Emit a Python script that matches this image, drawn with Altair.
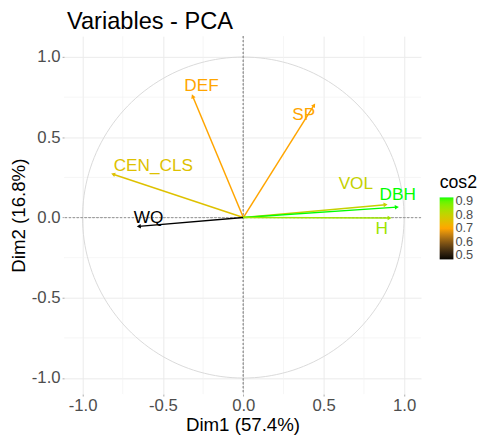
import altair as alt
import pandas as pd

# ---- data ----
variables = ["DEF", "SP", "CEN_CLS", "WQ", "VOL", "DBH", "H"]
dim1 = [-0.315, 0.44, -0.81, -0.65, 0.885, 0.955, 0.91]
dim2 = [0.756, 0.70, 0.27, -0.055, 0.08, 0.065, -0.003]
cos2 = [0.70, 0.70, 0.76, 0.47, 0.80, 0.93, 0.85]
label_x = [-0.26, 0.376, -0.56, -0.59, 0.70, 0.96, 0.86]
label_y = [0.82, 0.64, 0.32, -0.005, 0.21, 0.14, -0.073]

major_ticks = [-1.0, -0.5, 0.0, 0.5, 1.0]
minor_ticks = [-0.75, -0.25, 0.25, 0.75]
legend_ticks = [0.5, 0.6, 0.7, 0.8, 0.9]
cos2_range = [0.47, 0.93]
gradient_colors = ["#000000", "#FFA500", "#00FF00"]

df = pd.DataFrame({"name": variables, "dim1": dim1, "dim2": dim2, "cos2": cos2,
                   "lx": label_x, "ly": label_y})
minor_df = pd.DataFrame({"v": minor_ticks})

FONT = "Liberation Sans"
W, H = 363, 364

xscale = alt.Scale(domain=[-1.115, 1.105], nice=False, zero=False)
yscale = alt.Scale(domain=[-1.1, 1.13], nice=False, zero=False)
cscale = alt.Scale(domain=cos2_range, range=gradient_colors, interpolate="lab")

lab_expr = "replace(format(datum.value, '.1f'), '\u2212', '-')"
xaxis = alt.Axis(values=major_ticks, labelExpr=lab_expr, title="Dim1 (57.4%)")
yaxis = alt.Axis(values=major_ticks, labelExpr=lab_expr, title="Dim2 (16.8%)")

base = alt.Chart(df)

minor_v = alt.Chart(minor_df).mark_rule(color="#f2f2f2", strokeWidth=0.7).encode(
    x=alt.X("v:Q", scale=xscale, axis=xaxis))
minor_h = alt.Chart(minor_df).mark_rule(color="#f2f2f2", strokeWidth=0.7).encode(
    y=alt.Y("v:Q", scale=yscale, axis=yaxis))

circle = alt.Chart(alt.sequence(0, 362, 2, as_="t")).transform_calculate(
    cx="cos(datum.t*PI/180)", cy="sin(datum.t*PI/180)"
).mark_line(color="#d9d9d9", strokeWidth=1).encode(
    x=alt.X("cx:Q", scale=xscale, axis=xaxis),
    y=alt.Y("cy:Q", scale=yscale, axis=yaxis),
    order="t:Q")

zero_v = alt.Chart(minor_df).mark_rule(color="#a0a0a0", strokeDash=[2, 2], strokeWidth=1).encode(
    x=alt.datum(0))
zero_h = alt.Chart(minor_df).mark_rule(color="#a0a0a0", strokeDash=[2, 2], strokeWidth=1).encode(
    y=alt.datum(0))

arrows = base.transform_calculate(x0="0", y0="0").mark_rule(strokeWidth=1.5).encode(
    x=alt.X("x0:Q", scale=xscale, axis=xaxis),
    y=alt.Y("y0:Q", scale=yscale, axis=yaxis),
    x2="dim1:Q", y2="dim2:Q",
    color=alt.Color("cos2:Q", scale=cscale, title="cos2",
                    legend=alt.Legend(type="gradient", values=legend_ticks, format=".1f")))

tips = base.transform_calculate(
    ang="90 - atan2(datum.dim2, datum.dim1) * 180 / PI"
).mark_point(shape="triangle-up", filled=True, size=22, opacity=1).encode(
    x=alt.X("dim1:Q", scale=xscale, axis=xaxis),
    y=alt.Y("dim2:Q", scale=yscale, axis=yaxis),
    angle=alt.Angle("ang:Q", scale=None),
    color=alt.Color("cos2:Q", scale=cscale, legend=None))

labels = base.mark_text(font=FONT, fontSize=17.5).encode(
    x=alt.X("lx:Q", scale=xscale, axis=xaxis),
    y=alt.Y("ly:Q", scale=yscale, axis=yaxis),
    text="name:N",
    color=alt.Color("cos2:Q", scale=cscale, legend=None))

chart = alt.layer(minor_v, minor_h, circle, zero_v, zero_h, arrows, tips, labels).resolve_legend(
    color="independent"
).properties(
    width=W, height=H,
    title=alt.TitleParams("Variables - PCA", anchor="start", frame="group",
                          font=FONT, fontSize=24, fontWeight="normal", color="#000000",
                          offset=2, dx=3),
    autosize=alt.AutoSizeParams(type="none"),
    padding={"left": 57, "top": 25, "right": 58, "bottom": 42},
).configure_view(stroke=None).configure_axis(
    domain=False, grid=True, gridColor="#ebebeb", gridWidth=1,
    labelFont=FONT, labelFontSize=17, labelColor="#4d4d4d",
    tickSize=2, tickColor="#aaaaaa", labelPadding=2,
    titleFont=FONT, titleFontSize=19, titleFontWeight="normal", titleColor="#000000",
).configure_axisX(titlePadding=2).configure_axisY(titlePadding=3).configure_legend(
    orient="none", legendX=382, legendY=140,
    titleFont=FONT, titleFontSize=18, titleFontWeight="normal", titleColor="#000000",
    labelFont=FONT, labelFontSize=13, labelColor="#4d4d4d", labelOverlap=False,
    labelOffset=6,
    gradientLength=63, gradientThickness=14, gradientStrokeWidth=0, titlePadding=6,
)

chart.save("out.html", embed_options={"renderer": "svg", "actions": False})
